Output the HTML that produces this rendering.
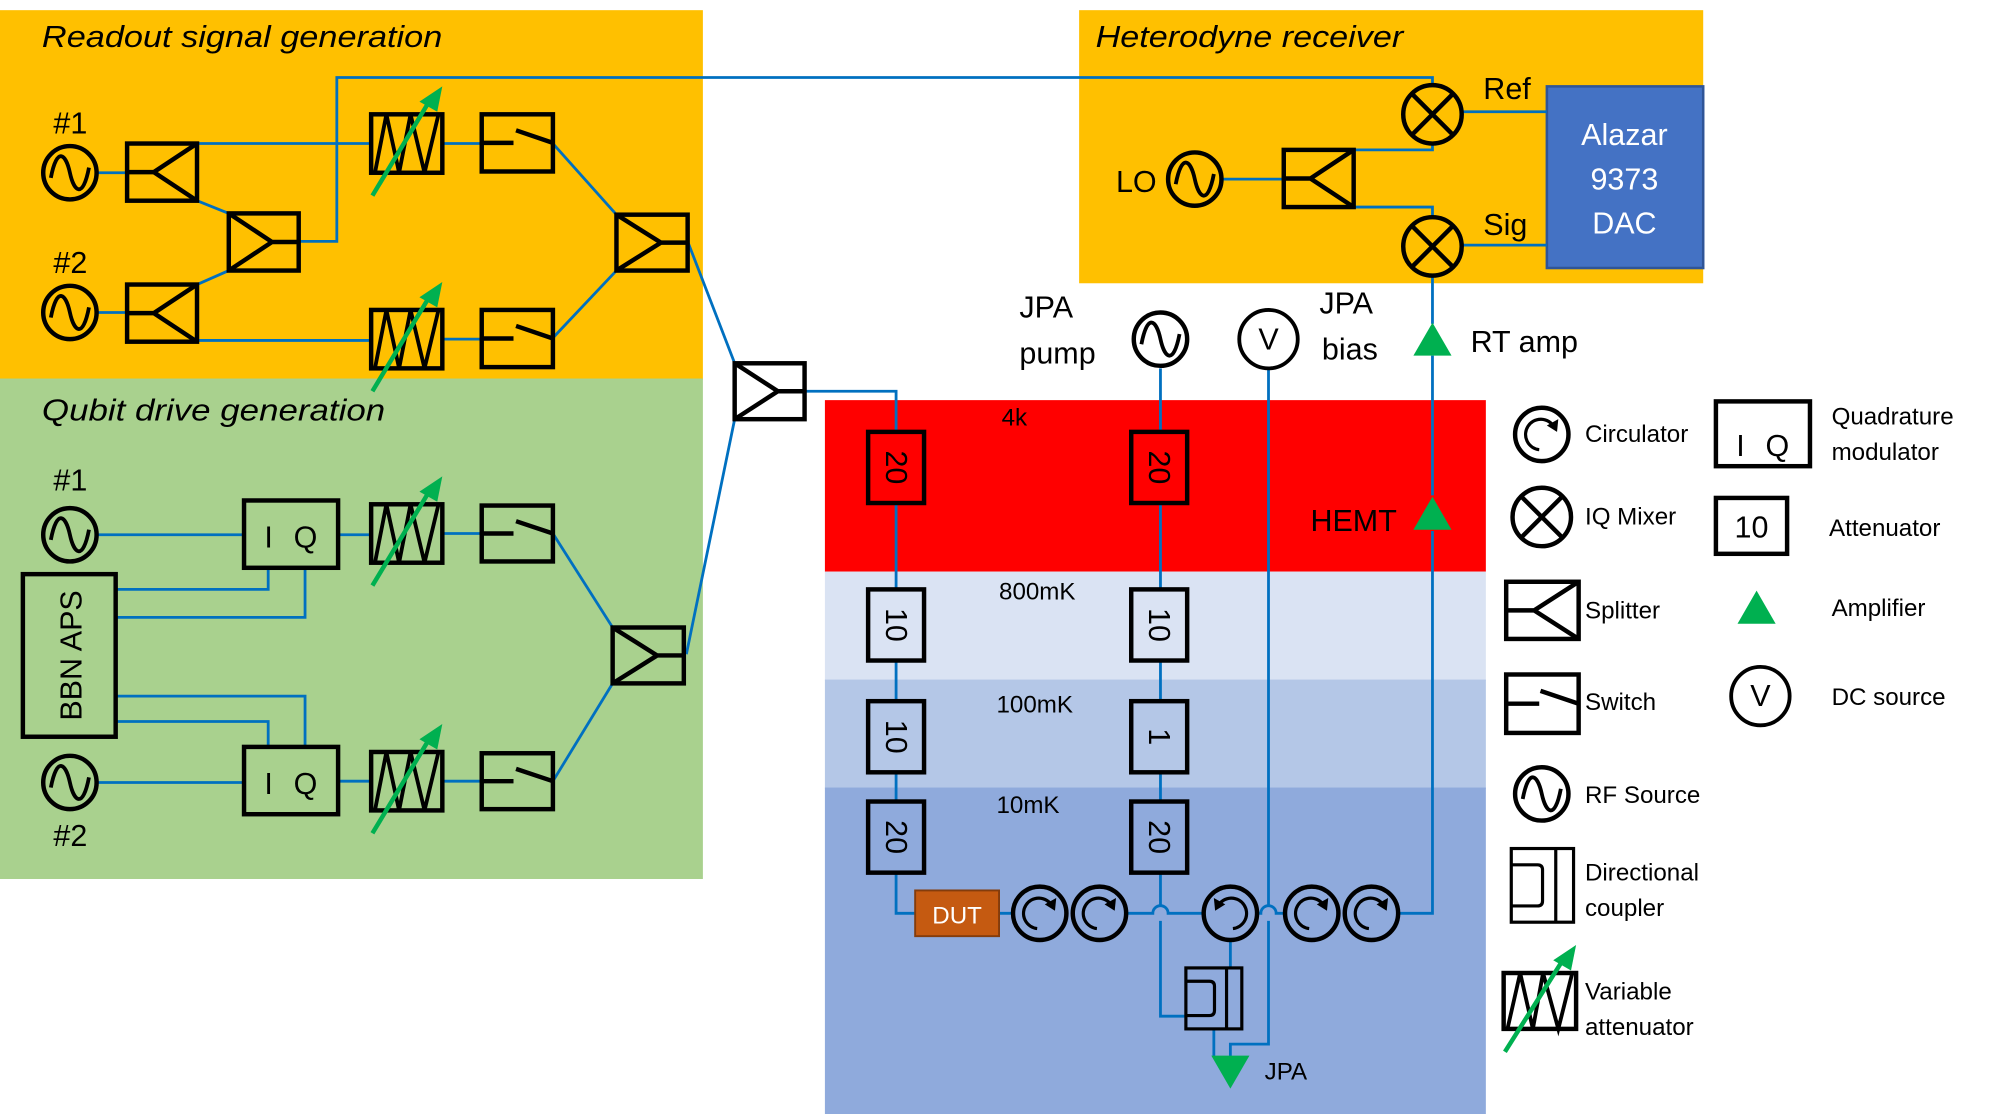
<!DOCTYPE html>
<html><head><meta charset="utf-8"><style>
html,body{margin:0;padding:0;background:#fff;}
svg{display:block}
text{font-family:"Liberation Sans",sans-serif;fill:#000}
</style></head><body>
<svg width="1993" height="1114" viewBox="0 0 1568 877" preserveAspectRatio="none" xmlns="http://www.w3.org/2000/svg">
<rect x="0" y="8" width="553" height="291" fill="#FFC000"/>
<rect x="0" y="298" width="553" height="394" fill="#A9D18E"/>
<rect x="849" y="8" width="491" height="215" fill="#FFC000"/>
<rect x="1217" y="68" width="123" height="143" fill="#4472C4" stroke="#2F5597" stroke-width="2"/>
<rect x="649" y="315" width="520" height="135" fill="#FF0000"/>
<rect x="649" y="450" width="520" height="86" fill="#DAE3F3"/>
<rect x="649" y="535" width="520" height="86" fill="#B4C7E7"/>
<rect x="649" y="620" width="520" height="257" fill="#8FAADC"/>
<g fill="none" stroke="#0070C0" stroke-width="2.2">
<path d="M76 136H100M155 113H292M155 158L180 168M235 190H265V61H1127V67M76 246H100M155 268H292M155 224L180 213M348 113H379M348 267H379M435 113L485 169M435 266L485 213M541 190L578 286M540 515L578 330M633 308H705V340"/>
<path d="M76 421H192M76 616H192M266 421H292M266 615H292M348 420H379M348 615H379M435 420L482 494M435 615L482 538M91 464H211V447M91 486H240V447M91 548H240V588M91 568H211V588"/>
<path d="M961 141H1010M1065 118H1127V113M1065 163H1127V171M1150 88H1217M1150 193H1217M1127 217V255M1127 280V390M1127 418V719H1101"/>
<path d="M705 396V464M705 520V552M705 608V631M705 687V719H720M913 290V340M913 396V464M913 520V552M913 608V631M786 719H796M887 719H907a6 6 0 0 1 12 0H946M990 719H992a6 6 0 0 1 12 0H1010"/>
<path d="M913 687V713M913 725V800H933M968 741V762M955 810V832M998 290V713M998 725V822H968V832"/>
</g>
<g fill="none" stroke="#000" stroke-width="3.5">
<circle cx="55" cy="136" r="21"/><path d="M40 140C45 114 52 122 55 136S65 158 70 132" stroke-width="3"/>
<circle cx="55" cy="246" r="21"/><path d="M40 250C45 224 52 232 55 246S65 268 70 242" stroke-width="3"/>
<circle cx="55" cy="421" r="21"/><path d="M40 425C45 399 52 407 55 421S65 443 70 417" stroke-width="3"/>
<circle cx="55" cy="616" r="21"/><path d="M40 620C45 594 52 602 55 616S65 638 70 612" stroke-width="3"/>
<circle cx="940" cy="141" r="21"/><path d="M925 145C930 119 937 127 940 141S950 163 955 137" stroke-width="3"/>
<circle cx="913" cy="267" r="21"/><path d="M898 271C903 245 910 253 913 267S923 289 928 263" stroke-width="3"/>
<circle cx="1213" cy="625" r="21"/><path d="M1198 629C1203 603 1210 611 1213 625S1223 647 1228 621" stroke-width="3"/>
<rect x="100" y="113" width="55" height="45"/><path d="M100 135.5H121L155 113M121 135.5L155 158"/>
<rect x="100" y="224" width="55" height="45"/><path d="M100 246.5H121L155 224M121 246.5L155 269"/>
<rect x="1010" y="118" width="55" height="45"/><path d="M1010 140.5H1031L1065 118M1031 140.5L1065 163"/>
<rect x="1185" y="458" width="57" height="45"/><path d="M1185 480.5H1207L1242 458M1207 480.5L1242 503"/>
<rect x="180" y="168" width="55" height="45"/><path d="M180 168L214 190.5L180 213M214 190.5H235"/>
<rect x="485" y="169" width="56" height="44"/><path d="M485 169L520 191L485 213M520 191H541"/>
<rect x="578" y="286" width="55" height="44"/><path d="M578 286L612 308L578 330M612 308H633"/>
<rect x="482" y="494" width="56" height="44"/><path d="M482 494L517 516L482 538M517 516H538"/>
<rect x="379" y="90" width="56" height="45"/><path d="M379 112.5H404M406 102.6L435 112.5"/>
<rect x="379" y="244" width="56" height="45"/><path d="M379 266.5H404M406 256.6L435 266.5"/>
<rect x="379" y="398" width="56" height="44"/><path d="M379 420H404M406 410.3L435 420"/>
<rect x="379" y="593" width="56" height="44"/><path d="M379 615H404M406 605.3L435 615"/>
<rect x="1185" y="531" width="57" height="46"/><path d="M1185 554H1211M1212 543.9L1242 554"/>
<rect x="292" y="90" width="56" height="46"/><path d="M295 136L304 90L314 136L323 90L334 136L345 90" stroke-width="3"/>
<rect x="292" y="244" width="56" height="46"/><path d="M295 290L304 244L314 290L323 244L334 290L345 244" stroke-width="3"/>
<rect x="292" y="397" width="56" height="46"/><path d="M295 443L304 397L314 443L323 397L334 443L345 397" stroke-width="3"/>
<rect x="292" y="592" width="56" height="46"/><path d="M295 638L304 592L314 638L323 592L334 638L345 592" stroke-width="3"/>
<rect x="1183" y="766" width="57" height="44"/><path d="M1186 810L1196 766L1206 810L1214 766L1226 810L1237 766" stroke-width="3"/>
<rect x="192" y="394" width="74" height="53"/>
<rect x="192" y="588" width="74" height="53"/>
<rect x="18" y="452" width="73" height="128"/>
<rect x="1350" y="316" width="74" height="51"/>
<rect x="1350" y="392" width="56" height="44"/>
<circle cx="1127" cy="90" r="23"/><path d="M1111 74L1143 106M1143 74L1111 106"/>
<circle cx="1127" cy="194" r="23"/><path d="M1111 178L1143 210M1143 178L1111 210"/>
<circle cx="1213" cy="407" r="23"/><path d="M1197 391L1229 423M1229 391L1197 423"/>
<circle cx="998" cy="267" r="23" stroke-width="3"/>
<circle cx="1385" cy="548" r="23" stroke-width="3"/>
<rect x="683" y="340" width="44" height="56"/><rect x="683" y="464" width="44" height="56"/><rect x="683" y="552" width="44" height="56"/><rect x="683" y="631" width="44" height="56"/>
<rect x="890" y="340" width="44" height="56"/><rect x="890" y="464" width="44" height="56"/><rect x="890" y="552" width="44" height="56"/><rect x="890" y="631" width="44" height="56"/>
<circle cx="818" cy="719" r="21"/><path d="M816 731A12 12 0 1 1 827.6 713" stroke-width="2.5"/>
<circle cx="865" cy="719" r="21"/><path d="M863 731A12 12 0 1 1 874.6 713" stroke-width="2.5"/>
<circle cx="968" cy="719" r="21"/><path d="M970 731A12 12 0 1 0 958.4 713" stroke-width="2.5"/>
<circle cx="1032" cy="719" r="21"/><path d="M1030 731A12 12 0 1 1 1041.6 713" stroke-width="2.5"/>
<circle cx="1079" cy="719" r="21"/><path d="M1077 731A12 12 0 1 1 1088.6 713" stroke-width="2.5"/>
<circle cx="1213" cy="342" r="21"/><path d="M1211 354A12 12 0 1 1 1222.6 336" stroke-width="2.5"/>
<rect x="933" y="762" width="44" height="48" stroke-width="2.5"/><path d="M965 762V810M933 772.5H951.5q4 0 4 4V795.5q0 4 -4 4H933" stroke-width="2.5"/>
<rect x="1189" y="668" width="49" height="58" stroke-width="2.5"/><path d="M1224 668V726M1189 680.8H1209.6q4 0 4 4V709.2q0 4 -4 4H1189" stroke-width="2.5"/>
</g>
<g fill="#000">
<path d="M831 707l-1 10l-8 -5z"/><path d="M878 707l-1 10l-8 -5z"/><path d="M955 707l1 10l8 -5z"/><path d="M1045 707l-1 10l-8 -5z"/><path d="M1092 707l-1 10l-8 -5z"/><path d="M1226 330l-1 10l-8 -5z"/>
</g>
<rect x="720" y="701" width="66" height="36" fill="#C55A11" stroke="#843C0C" stroke-width="1.5"/>
<g fill="#00B050" stroke="none">
<path d="M1112 280L1127 254L1142 280Z"/><path d="M1112 417L1127 391L1142 417Z"/><path d="M1367 491L1382 465L1397 491Z"/><path d="M953 831L968 857L983 831Z"/>
<path d="M348 68L330 80L344 88Z"/><path d="M348 222L330 234L344 242Z"/><path d="M348 375L330 387L344 395Z"/><path d="M348 570L330 582L344 590Z"/><path d="M1240 744L1222 756L1236 764Z"/>
</g>
<g fill="none" stroke="#00B050" stroke-width="3.5">
<path d="M293 154L340 76M293 308L340 230M293 461L340 383M293 656L340 578M1184 828L1232 752"/>
</g>
<g font-size="24">
<text x="33" y="37" font-style="italic" textLength="315" lengthAdjust="spacingAndGlyphs">Readout signal generation</text>
<text x="33" y="331" font-style="italic" textLength="270" lengthAdjust="spacingAndGlyphs">Qubit drive generation</text>
<text x="862" y="37" font-style="italic" textLength="242" lengthAdjust="spacingAndGlyphs">Heterodyne receiver</text>
<text x="42" y="105">#1</text><text x="42" y="215">#2</text>
<text x="42" y="386">#1</text><text x="42" y="666">#2</text>
<text x="1167" y="78">Ref</text><text x="1167" y="185">Sig</text><text x="878" y="151">LO</text>
<text x="1278" y="114" text-anchor="middle" style="fill:#fff">Alazar</text>
<text x="1278" y="149" text-anchor="middle" style="fill:#fff">9373</text>
<text x="1278" y="184" text-anchor="middle" style="fill:#fff">DAC</text>
<text x="802" y="250">JPA</text><text x="802" y="286">pump</text>
<text x="1038" y="247">JPA</text><text x="1040" y="283">bias</text>
<text x="1157" y="277">RT amp</text>
<text x="1031" y="418">HEMT</text>
<text x="55" y="516" text-anchor="middle" transform="rotate(-90 55 516)" dy="9">BBN APS</text>
<text x="208" y="431">I</text><text x="231" y="431">Q</text>
<text x="208" y="625">I</text><text x="231" y="625">Q</text>
<text x="1366" y="359">I</text><text x="1389" y="359">Q</text>
<text x="1378" y="423" text-anchor="middle">10</text>
<text x="998" y="275" text-anchor="middle">V</text>
<text x="1385" y="556" text-anchor="middle">V</text>
<text x="705" y="368" text-anchor="middle" dy="8" transform="rotate(90 705 368)">20</text>
<text x="705" y="492" text-anchor="middle" dy="8" transform="rotate(90 705 492)">10</text>
<text x="705" y="580" text-anchor="middle" dy="8" transform="rotate(90 705 580)">10</text>
<text x="705" y="659" text-anchor="middle" dy="8" transform="rotate(90 705 659)">20</text>
<text x="912" y="368" text-anchor="middle" dy="8" transform="rotate(90 912 368)">20</text>
<text x="912" y="492" text-anchor="middle" dy="8" transform="rotate(90 912 492)">10</text>
<text x="912" y="580" text-anchor="middle" dy="8" transform="rotate(90 912 580)">1</text>
<text x="912" y="659" text-anchor="middle" dy="8" transform="rotate(90 912 659)">20</text>
</g>
<g font-size="19">
<text x="788" y="335">4k</text><text x="786" y="472">800mK</text><text x="784" y="561">100mK</text><text x="784" y="640">10mK</text>
<text x="753" y="727" text-anchor="middle" style="fill:#fff">DUT</text>
<text x="995" y="850">JPA</text>
<text x="1247" y="348">Circulator</text><text x="1441" y="334">Quadrature</text><text x="1441" y="362">modulator</text>
<text x="1247" y="413">IQ Mixer</text><text x="1439" y="422">Attenuator</text>
<text x="1247" y="487">Splitter</text><text x="1441" y="485">Amplifier</text>
<text x="1247" y="559">Switch</text><text x="1441" y="555">DC source</text>
<text x="1247" y="632">RF Source</text>
<text x="1247" y="693">Directional</text><text x="1247" y="721">coupler</text>
<text x="1247" y="787">Variable</text><text x="1247" y="815">attenuator</text>
</g>
</svg>
</body></html>
